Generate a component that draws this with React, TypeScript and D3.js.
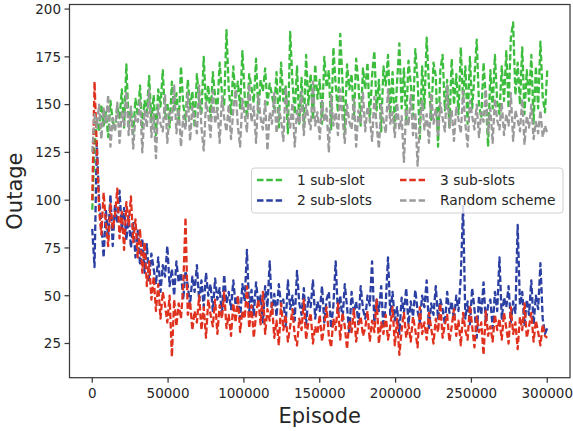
import React from "react";
import * as d3 from "d3";

const STEP = 1500;

const oneSubSlot = [
  95,128,142,136,150,139,146,133,152,141,137,149,143,158,138,171,140,147,135,153,
  144,160,137,152,146,165,141,155,134,158,149,168,143,151,138,162,147,156,140,170,
  150,142,163,148,157,138,166,152,145,175,149,160,143,167,154,147,172,156,150,189,
  158,145,170,153,162,148,178,155,143,166,159,151,174,146,163,157,169,150,161,155,
  148,167,138,172,152,160,135,188,162,145,170,140,164,138,176,150,166,142,171,153,
  163,140,175,159,168,137,180,160,146,187,162,135,171,158,166,142,174,161,139,169,
  158,172,141,165,178,147,163,136,170,160,176,145,167,138,162,182,148,169,140,173,
  161,144,179,163,132,170,148,185,160,142,172,165,128,168,176,147,163,138,174,150,
  166,145,180,152,170,140,175,148,165,184,150,143,172,153,128,168,148,176,151,145,
  170,152,178,148,185,193,155,172,150,180,145,168,152,176,140,170,148,183,154,146,
  168,
];

const twoSubSlots = [
  85,65,130,100,88,70,95,80,103,76,98,88,105,84,96,79,92,75,88,70,
  84,66,80,62,77,58,72,64,56,70,52,66,60,76,55,64,50,68,57,62,
  48,63,55,45,60,52,66,47,58,44,62,50,56,42,59,48,54,40,61,46,
  52,43,58,45,50,38,56,47,74,42,53,40,57,46,50,36,55,44,68,41,
  51,39,56,45,48,34,58,43,50,37,63,46,40,54,35,49,44,58,38,47,
  42,55,36,48,52,33,45,68,40,50,37,56,44,30,52,41,47,35,55,43,
  38,50,45,68,36,48,42,55,33,46,70,40,52,37,44,30,49,41,54,35,
  47,39,53,42,36,50,44,58,33,46,40,55,38,48,43,35,52,41,47,37,
  50,42,60,97,38,47,35,54,43,28,50,40,57,36,45,48,33,52,42,70,
  38,49,44,55,36,47,41,87,45,52,34,48,40,58,35,50,43,67,38,30,
  33,
];

const threeSubSlots = [
  100,162,128,95,82,104,88,76,98,85,92,106,80,94,74,99,87,102,78,90,
  70,85,62,78,55,68,48,60,42,56,38,52,45,36,50,18,48,34,46,38,
  55,91,40,47,32,42,36,50,32,44,28,48,40,34,48,30,45,38,52,33,
  40,29,46,36,50,31,42,38,55,33,45,28,40,48,35,52,30,43,37,46,
  28,37,24,46,32,40,26,34,43,29,24,38,32,48,27,36,41,25,34,30,
  40,26,35,44,29,23,38,32,46,27,41,34,22,37,31,43,26,35,39,29,
  33,42,26,37,31,48,25,36,30,40,27,34,44,24,38,19,32,41,28,35,
  26,39,32,23,44,30,36,27,41,33,25,38,31,46,28,35,40,26,34,43,
  29,37,24,41,32,27,45,34,23,39,31,36,19,42,29,34,26,40,32,38,
  27,41,33,25,44,30,36,22,39,32,46,28,34,41,26,37,31,24,35,29,
  28,
];

const randomScheme = [
  125,145,138,150,132,148,140,155,128,143,136,151,130,146,139,157,134,149,127,144,
  141,153,125,147,138,158,133,145,122,150,140,136,155,130,146,142,160,135,148,128,
  144,137,156,131,149,142,135,160,138,126,151,145,133,157,140,148,130,154,143,136,
  150,132,147,158,139,128,153,144,136,161,141,149,130,155,143,137,152,126,146,140,
  156,135,148,142,131,159,144,138,151,128,147,140,157,134,150,143,137,162,139,146,
  132,152,141,148,125,155,139,146,134,158,143,130,150,141,137,153,128,147,140,156,
  136,149,143,131,154,139,127,150,142,135,158,140,146,133,151,137,144,120,148,139,
  155,134,146,118,141,152,137,145,130,156,140,148,133,151,143,136,160,138,147,131,
  149,142,135,157,140,128,152,144,137,150,133,146,141,158,135,148,130,153,142,137,
  151,134,145,139,156,131,147,142,136,153,129,144,138,150,132,141,135,147,133,139,
  135,
];

const seriesNames = ["1 sub-slot", "2 sub-slots", "3 sub-slots", "Random scheme"];
const seriesColors = ["#3dbd3d", "#2b3fa3", "#e0311f", "#9a9a9a"];
const xTicks = [0, 50000, 100000, 150000, 200000, 250000, 300000];
const yTicks = [25, 50, 75, 100, 125, 150, 175, 200];

const W = 573;
const H = 431;
const L = 69.5, R = 570, T = 4.5, B = 377.7;

export default function App() {
  const x = d3.scaleLinear().domain([-15000, 315000]).range([L, R]);
  const y = d3.scaleLinear().domain([7.1, 202.4]).range([B, T]);
  const all = [oneSubSlot, twoSubSlots, threeSubSlots, randomScheme];
  const line = d3
    .line<number>()
    .x((_, i) => x(i * STEP))
    .y((d) => y(d));
  const font = "DejaVu Sans, sans-serif";
  const txt = "#262626";
  const axisColor = "#3a3a3a";

  const legendX = 251.5, legendY = 168, legendW = 311.5, legendH = 45;
  const legendItems = [
    { i: 0, lx: 257, ty: 180 },
    { i: 1, lx: 257, ty: 200.5 },
    { i: 2, lx: 400, ty: 180 },
    { i: 3, lx: 400, ty: 200.5 },
  ];

  return (
    <svg
      width={W}
      height={H}
      style={{ position: "absolute", left: 0, top: 0, background: "#fff" }}
      fontFamily={font}
    >
      <rect x={0} y={0} width={W} height={H} fill="#fff" />
      <defs>
        <clipPath id="plot">
          <rect x={L} y={T} width={R - L} height={B - T} />
        </clipPath>
      </defs>
      <g clipPath="url(#plot)">
        {all.map((s, k) => (
          <path
            key={k}
            d={line(s) || ""}
            fill="none"
            stroke={seriesColors[k]}
            strokeWidth={2.3}
            strokeDasharray="6.5,2.8"
            strokeLinejoin="round"
          />
        ))}
      </g>
      <rect x={L} y={T} width={R - L} height={B - T} fill="none" stroke={axisColor} strokeWidth={1.25} />
      {xTicks.map((t) => (
        <g key={"x" + t}>
          <line x1={x(t)} x2={x(t)} y1={B} y2={B + 5} stroke={axisColor} strokeWidth={1.25} />
          <text x={x(t)} y={398} textAnchor="middle" fontSize={13.5} fill={txt}>
            {t}
          </text>
        </g>
      ))}
      {yTicks.map((t) => (
        <g key={"y" + t}>
          <line x1={L - 5} x2={L} y1={y(t)} y2={y(t)} stroke={axisColor} strokeWidth={1.25} />
          <text x={61} y={y(t)} dy="0.36em" textAnchor="end" fontSize={13.5} fill={txt}>
            {t}
          </text>
        </g>
      ))}
      <text x={(L + R) / 2} y={423} textAnchor="middle" fontSize={21} fill={txt}>
        Episode
      </text>
      <text
        transform={`translate(22, ${(T + B) / 2}) rotate(-90)`}
        textAnchor="middle"
        fontSize={21}
        fill={txt}
      >
        Outage
      </text>
      <rect
        x={legendX}
        y={legendY}
        width={legendW}
        height={legendH}
        rx={3}
        fill="#fff"
        fillOpacity={0.8}
        stroke="#d0d0d0"
        strokeWidth={1}
      />
      {legendItems.map((it) => (
        <g key={"l" + it.i}>
          <line
            x1={it.lx}
            x2={it.lx + 28}
            y1={it.ty}
            y2={it.ty}
            stroke={seriesColors[it.i]}
            strokeWidth={2.3}
            strokeDasharray="6.5,2.8"
          />
          <text x={it.lx + 40} y={it.ty} dy="0.36em" fontSize={13.8} fill={txt}>
            {seriesNames[it.i]}
          </text>
        </g>
      ))}
    </svg>
  );
}
